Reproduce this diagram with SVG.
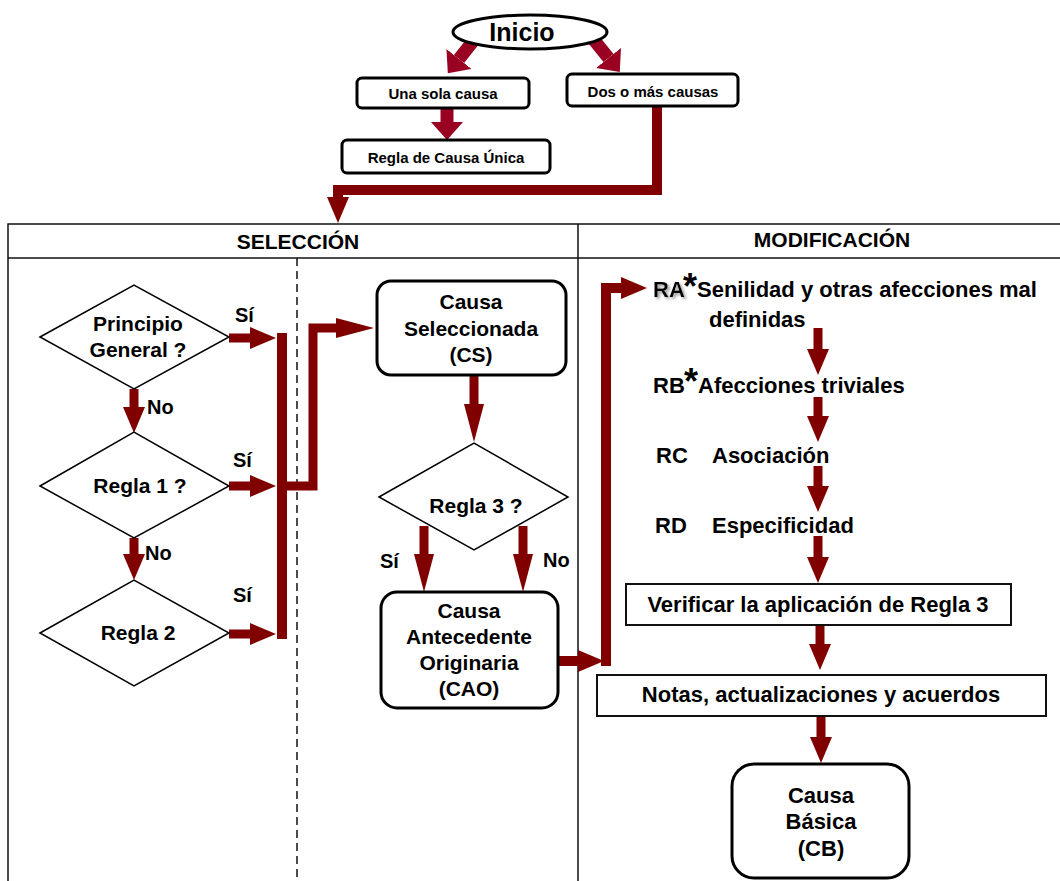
<svg xmlns="http://www.w3.org/2000/svg" width="1060" height="881" viewBox="0 0 1060 881">
<defs>
<style>
text{font-family:"Liberation Sans",Arial,sans-serif;font-weight:bold;fill:#000}
.t{font-size:21px;text-anchor:middle}
.r{font-size:22px}
.s{font-size:15px;text-anchor:middle}
.lbl{font-size:20px}
.ast{font-size:36px}
.box{fill:#fff;stroke:#000;stroke-width:3}
.rect{fill:#fff;stroke:#111;stroke-width:2}
.dia{fill:#fff;stroke:#000;stroke-width:1.5}
.grid{stroke:#111;stroke-width:1.5;fill:none}
.c{fill:none;stroke:#800000;stroke-width:10;stroke-linejoin:miter}
.cs{fill:none;stroke:#800000;stroke-width:9}
.cc{fill:none;stroke:#990022;stroke-width:13}
</style>
<marker id="hd" markerUnits="userSpaceOnUse" markerWidth="26" markerHeight="22" refX="0" refY="11" orient="auto"><path d="M0,0 L26,11 L0,22 z" fill="#800000"/></marker>
<marker id="hl" markerUnits="userSpaceOnUse" markerWidth="38" markerHeight="20" refX="0" refY="10" orient="auto"><path d="M0,0 L38,10 L0,20 z" fill="#800000"/></marker>
<marker id="hc" markerUnits="userSpaceOnUse" markerWidth="18" markerHeight="32" refX="0" refY="16" orient="auto"><path d="M0,0 L18,16 L0,32 z" fill="#990022"/></marker>
<filter id="sh" x="-20%" y="-20%" width="150%" height="150%"><feGaussianBlur in="SourceAlpha" stdDeviation="1.5"/><feOffset dx="2" dy="2" result="b"/><feFlood flood-color="#999"/><feComposite in2="b" operator="in"/><feMerge><feMergeNode/><feMergeNode in="SourceGraphic"/></feMerge></filter>
</defs>
<rect width="1060" height="881" fill="#fff"/>

<g id="table">
<rect class="grid" x="8" y="224" width="1060" height="700"/>
<line class="grid" x1="8" y1="258" x2="1060" y2="258"/>
<line class="grid" x1="578" y1="224" x2="578" y2="881"/>
<line x1="297" y1="258" x2="297" y2="881" stroke="#111" stroke-width="1.5" stroke-dasharray="8 5"/>
<text class="t" x="298" y="249">SELECCIÓN</text>
<text class="t" x="832" y="247">MODIFICACIÓN</text>
</g>

<g id="connectors">
<path class="cc" d="M474,40 L459,59" marker-end="url(#hc)"/>
<path class="cc" d="M594,40 L608.5,58" marker-end="url(#hc)"/>
<path class="cc" d="M447,108 V122" marker-end="url(#hc)"/>
<path class="c" d="M657,106 V190 H338 V197" marker-end="url(#hd)"/>
<path class="cs" d="M229,338 H250" marker-end="url(#hd)"/>
<path class="cs" d="M229,486 H250" marker-end="url(#hd)"/>
<path class="cs" d="M229,634 H250" marker-end="url(#hd)"/>
<path class="c" d="M282,333 V639"/>
<path class="cs" d="M282,486 H313 V328 H336" marker-end="url(#hl)"/>
<path class="cs" d="M134,389 V407" marker-end="url(#hd)"/>
<path class="cs" d="M134,538 V554" marker-end="url(#hd)"/>
<path class="cs" d="M474,375 V404" marker-end="url(#hl)"/>
<path class="cs" d="M424,526 V554" marker-end="url(#hl)"/>
<path class="cs" d="M523,526 V554" marker-end="url(#hl)"/>
<path class="c" d="M558,661 H578" marker-end="url(#hd)"/>
<path class="c" d="M606,666 V288 H621" marker-end="url(#hd)"/>
<path class="cs" d="M818,328 V349" marker-end="url(#hd)"/>
<path class="cs" d="M818,397 V416" marker-end="url(#hd)"/>
<path class="cs" d="M818,466 V486" marker-end="url(#hd)"/>
<path class="cs" d="M818,536 V557" marker-end="url(#hd)"/>
<path class="cs" d="M820,625 V644" marker-end="url(#hd)"/>
<path class="cs" d="M821,716 V737" marker-end="url(#hd)"/>
</g>

<g id="inicio">
<ellipse cx="530" cy="32" rx="77" ry="17" fill="#fff" stroke="#000" stroke-width="3"/>
<text x="522" y="41" style="font-size:25px;text-anchor:middle">Inicio</text>
</g>
<g id="una-sola">
<rect class="box" x="357" y="78" width="172" height="30" rx="5"/>
<text class="s" x="443" y="99">Una sola causa</text>
</g>
<g id="dos-o-mas">
<rect class="box" x="567" y="74" width="171" height="32" rx="5"/>
<text class="s" x="653" y="97">Dos o más causas</text>
</g>
<g id="regla-unica">
<rect class="box" x="342" y="140" width="208" height="33" rx="5"/>
<text class="s" x="446" y="163">Regla de Causa Única</text>
</g>

<g id="principio">
<polygon class="dia" points="40,337 134,285 229,337 134,389"/>
<text class="t" x="138" y="331">Principio</text>
<text class="t" x="138" y="357">General ?</text>
</g>
<g id="regla1">
<polygon class="dia" points="40,486 134,432 229,486 134,538"/>
<text class="t" x="140" y="493">Regla 1 ?</text>
</g>
<g id="regla2">
<polygon class="dia" points="40,633 134,580 229,633 134,686"/>
<text class="t" x="138" y="640">Regla 2</text>
</g>

<g id="labels">
<text class="lbl" x="235" y="322">Sí</text>
<text class="lbl" x="233" y="467">Sí</text>
<text class="lbl" x="233" y="602">Sí</text>
<text class="lbl" x="147" y="414">No</text>
<text class="lbl" x="145" y="560">No</text>
<text class="lbl" x="380" y="568">Sí</text>
<text class="lbl" x="543" y="567">No</text>
</g>

<g id="causa-seleccionada">
<rect class="box" x="377" y="281" width="189" height="94" rx="14"/>
<text class="t" x="471" y="309">Causa</text>
<text class="t" x="471" y="336">Seleccionada</text>
<text class="t" x="471" y="362">(CS)</text>
</g>
<g id="regla3">
<polygon class="dia" points="379,497 474,443 568,497 474,550"/>
<text class="t" x="476" y="513">Regla 3 ?</text>
</g>
<g id="cao">
<rect class="box" x="381" y="592" width="177" height="116" rx="16"/>
<text class="t" x="469" y="618">Causa</text>
<text class="t" x="469" y="644">Antecedente</text>
<text class="t" x="469" y="670">Originaria</text>
<text class="t" x="469" y="696">(CAO)</text>
</g>

<g id="ra">
<text class="r" x="653" y="297" filter="url(#sh)">RA</text>
<text class="ast" x="683" y="299">*</text>
<text class="r" x="697" y="297">Senilidad y otras afecciones mal</text>
<text class="r" x="709" y="327">definidas</text>
</g>
<g id="rb">
<text class="r" x="653" y="393">RB</text>
<text class="ast" x="684" y="394">*</text>
<text class="r" x="698" y="393">Afecciones triviales</text>
</g>
<g id="rc">
<text class="r" x="656" y="463">RC</text>
<text class="r" x="712" y="463">Asociación</text>
</g>
<g id="rd">
<text class="r" x="655" y="533">RD</text>
<text class="r" x="712" y="533">Especificidad</text>
</g>
<g id="verificar">
<rect class="rect" x="626" y="584" width="385" height="41"/>
<text class="r" x="818" y="612" text-anchor="middle">Verificar la aplicación de Regla 3</text>
</g>
<g id="notas">
<rect class="rect" x="597" y="675" width="449" height="41"/>
<text class="r" x="821" y="702" text-anchor="middle">Notas, actualizaciones y acuerdos</text>
</g>
<g id="causa-basica">
<rect class="box" x="732" y="764" width="177" height="114" rx="22"/>
<text class="t" x="821" y="803" style="font-size:22px">Causa</text>
<text class="t" x="821" y="829" style="font-size:22px">Básica</text>
<text class="t" x="821" y="856" style="font-size:22px">(CB)</text>
</g>
</svg>
